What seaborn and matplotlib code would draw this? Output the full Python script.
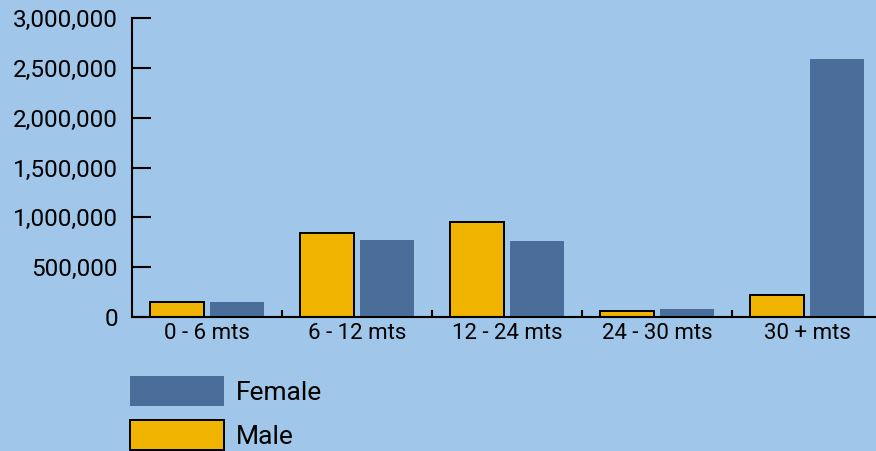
import matplotlib
matplotlib.use("Agg")
import matplotlib.pyplot as plt
from matplotlib.patches import Patch
from matplotlib.ticker import FuncFormatter, FixedLocator
import pandas as pd
import seaborn as sns

# ── Data ───────────────────────────────────────────────────────────────────
age_groups = ["0 - 6 mts", "6 - 12 mts", "12 - 24 mts", "24 - 30 mts", "30 + mts"]
male = [155000, 840000, 950000, 63000, 223000]
female = [155000, 770000, 760000, 80000, 2590000]

BG = "#a0c6e9"
MALE_C = "#f0b400"
FEMALE_C = "#4a6e99"

df = pd.DataFrame({
    "age": age_groups * 2,
    "count": male + female,
    "sex": ["Male"] * len(male) + ["Female"] * len(female),
})

sns.set_style("white")
plt.rcParams["font.family"] = ["Roboto", "DejaVu Sans"]
plt.rcParams["text.color"] = "black"
plt.rcParams["xtick.color"] = "black"
plt.rcParams["ytick.color"] = "black"

fig = plt.figure(figsize=(8.76, 4.51), dpi=100, facecolor=BG)
ax = fig.add_axes([132 / 876, 1 - 317 / 451, 750 / 876, 299 / 451])
ax.set_facecolor(BG)

sns.barplot(data=df, x="age", y="count", hue="sex", hue_order=["Male", "Female"],
            palette={"Male": MALE_C, "Female": FEMALE_C}, width=0.8, gap=0.1,
            saturation=1, legend=False, ax=ax)

# male bars get a black outline
for bar in ax.containers[0]:
    bar.set_edgecolor("black")
    bar.set_linewidth(1.4)
for bar in ax.containers[1]:
    bar.set_linewidth(0)

ax.set_xlim(-0.5, 4.5)
ax.set_ylim(0, 3000000)
ax.set_yticks(range(0, 3000001, 500000))
ax.yaxis.set_major_formatter(FuncFormatter(lambda v, _: f"{int(v):,}"))
ax.set_xlabel("")
ax.set_ylabel("")

for side in ["top", "right"]:
    ax.spines[side].set_visible(False)
for side in ["left", "bottom"]:
    ax.spines[side].set_color("black")
    ax.spines[side].set_linewidth(1.5)

ax.tick_params(axis="y", direction="in", length=13.5, width=1.5, color="black",
               pad=10, labelsize=17.5, labelcolor="black", left=True)
ax.tick_params(axis="x", which="major", length=0, pad=4, labelsize=16,
               labelcolor="black")
ax.xaxis.set_minor_locator(FixedLocator([0.5, 1.5, 2.5, 3.5]))
ax.tick_params(axis="x", which="minor", direction="in", length=5, width=1.5,
               color="black", bottom=True)

# legend below the plot, Female first
handles = [Patch(facecolor=FEMALE_C, edgecolor="none", label="Female"),
           Patch(facecolor=MALE_C, edgecolor="black", linewidth=1.4, label="Male")]
fig.legend(handles=handles, loc="upper left", bbox_to_anchor=(130 / 876, 1 - 376 / 451),
           frameon=False, borderpad=0, borderaxespad=0, handlelength=3.56,
           handleheight=1.37, handletextpad=0.45, labelspacing=0.53,
           prop={"family": ["Roboto", "DejaVu Sans"], "size": 19})

fig.savefig("out.png", dpi=100, facecolor=BG)
